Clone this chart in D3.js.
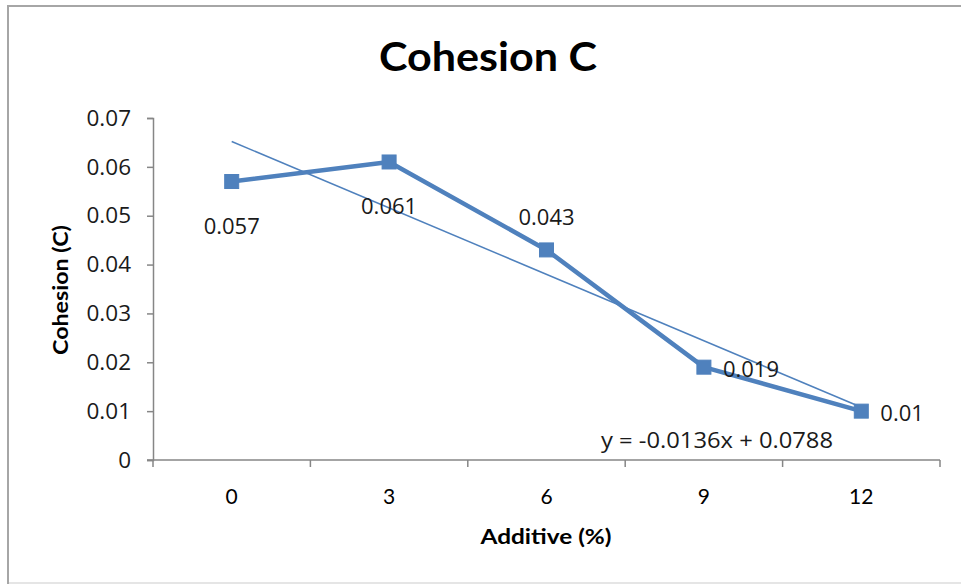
<!DOCTYPE html>
<html>
<head>
<meta charset="utf-8">
<script src="https://cdn.jsdelivr.net/npm/d3@7"></script>
<style>
  html, body { margin: 0; padding: 0; background: #fff; }
  svg { display: block; }
</style>
</head>
<body>
<svg id="chart" width="961" height="584"></svg>
<script>
// ---- data ----
const categories = ["0", "3", "6", "9", "12"];
const cohesion = [0.057, 0.061, 0.043, 0.019, 0.01];
const labelPos = ["below", "below", "above", "right", "right"];
const yTicks = [0, 0.01, 0.02, 0.03, 0.04, 0.05, 0.06, 0.07];
const trendSlope = -0.0136;
const trendIntercept = 0.0788;
const title = "Cohesion C";
const xTitle = "Additive (%)";
const yTitle = "Cohesion (C)";
const equation = "y = -0.0136x + 0.0788";

// ---- layout ----
const W = 961, H = 584;
const plot = { left: 153, right: 940, top: 118, bottom: 460 };
const blue = "#4F81BD";
const axisColor = "#868686";
const labelFont = "'Open Sans', 'DejaVu Sans', sans-serif";
const titleFont = "Lato, 'Open Sans', sans-serif";

const svg = d3.select("#chart");

// outer chart frame
svg.append("rect")
  .attr("x", 8).attr("y", 6).attr("width", W + 10).attr("height", H + 10)
  .attr("fill", "#fff").attr("stroke", "#a6a6a6").attr("stroke-width", 2);
svg.append("line").attr("x1", 9).attr("x2", W).attr("y1", 583).attr("y2", 583)
  .attr("stroke", "#dcdcdc").attr("stroke-width", 1.5);

const x = d3.scaleBand().domain(categories).range([plot.left, plot.right]).padding(0);
const xc = c => x(c) + x.bandwidth() / 2;
const y = d3.scaleLinear().domain([0, 0.07]).range([plot.bottom, plot.top]);

// title
svg.append("text")
  .attr("x", 488).attr("y", 71)
  .attr("text-anchor", "middle")
  .attr("font-family", titleFont).attr("font-weight", "bold")
  .attr("font-size", 41)
  .attr("textLength", 218).attr("lengthAdjust", "spacingAndGlyphs")
  .attr("fill", "#000")
  .text(title);

// y axis
const yAxis = svg.append("g")
  .attr("transform", `translate(${plot.left},0)`)
  .call(d3.axisLeft(y).tickValues(yTicks).tickSize(6).tickPadding(16)
    .tickFormat(d => d === 0 ? "0" : d3.format(".2f")(d)));
yAxis.select(".domain").attr("stroke", axisColor).attr("stroke-width", 1.5);
yAxis.selectAll(".tick line").attr("stroke", axisColor).attr("stroke-width", 1.5);
yAxis.selectAll(".tick text")
  .attr("font-family", labelFont).attr("font-size", 22.5).attr("fill", "#1a1a1a");

// x axis (ticks at category boundaries)
const xAxisG = svg.append("g").attr("transform", `translate(0,${plot.bottom})`);
xAxisG.append("line")
  .attr("x1", plot.left - 6).attr("x2", plot.right)
  .attr("y1", 0).attr("y2", 0)
  .attr("stroke", axisColor).attr("stroke-width", 1.5);
const boundaries = categories.map(c => x(c)).concat([x(categories[categories.length - 1]) + x.bandwidth()]);
xAxisG.selectAll("line.tk").data(boundaries).join("line")
  .attr("class", "tk")
  .attr("x1", d => d).attr("x2", d => d)
  .attr("y1", 0).attr("y2", 7)
  .attr("stroke", axisColor).attr("stroke-width", 1.5);
xAxisG.selectAll("text.cat").data(categories).join("text")
  .attr("class", "cat")
  .attr("x", d => xc(d)).attr("y", 44)
  .attr("text-anchor", "middle")
  .attr("font-family", titleFont).attr("font-size", 21).attr("fill", "#000")
  .text(d => d);

// axis titles
svg.append("text")
  .attr("x", 546).attr("y", 544)
  .attr("text-anchor", "middle")
  .attr("font-family", titleFont).attr("font-weight", "bold").attr("font-size", 21)
  .attr("textLength", 131).attr("lengthAdjust", "spacingAndGlyphs")
  .attr("fill", "#000")
  .text(xTitle);
svg.append("text")
  .attr("transform", `translate(68,290) rotate(-90)`)
  .attr("text-anchor", "middle")
  .attr("font-family", titleFont).attr("font-weight", "bold").attr("font-size", 21)
  .attr("textLength", 130).attr("lengthAdjust", "spacingAndGlyphs")
  .attr("fill", "#000")
  .text(yTitle);

// trendline
const n = categories.length;
const trendPts = [0, n - 1].map(i => [xc(categories[i]), y(trendSlope * (i + 1) + trendIntercept)]);
svg.append("path")
  .attr("d", d3.line()(trendPts))
  .attr("fill", "none").attr("stroke", blue).attr("stroke-width", 1.5);

// data line
const pts = categories.map((c, i) => [xc(c), y(cohesion[i])]);
svg.append("path")
  .attr("d", d3.line()(pts))
  .attr("fill", "none").attr("stroke", blue).attr("stroke-width", 4.5)
  .attr("stroke-linejoin", "round");

// markers
const ms = 14;
svg.selectAll("rect.mk").data(pts).join("rect")
  .attr("class", "mk")
  .attr("x", d => d[0] - ms / 2).attr("y", d => d[1] - ms / 2)
  .attr("width", ms).attr("height", ms)
  .attr("fill", blue).attr("stroke", blue).attr("stroke-width", 1);

// data labels
svg.selectAll("text.dl").data(categories).join("text")
  .attr("class", "dl")
  .attr("x", (c, i) => labelPos[i] === "right" ? xc(c) + 19 : xc(c))
  .attr("y", (c, i) => {
    const py = y(cohesion[i]);
    if (labelPos[i] === "below") return py + 52;
    if (labelPos[i] === "above") return py - 25;
    return py + 10;
  })
  .attr("text-anchor", (c, i) => labelPos[i] === "right" ? "start" : "middle")
  .attr("font-family", labelFont).attr("font-size", 22).attr("fill", "#1a1a1a")
  .text((c, i) => String(cohesion[i]));

// equation
svg.append("text")
  .attr("x", 717).attr("y", 448)
  .attr("text-anchor", "middle")
  .attr("font-family", labelFont).attr("font-size", 21).attr("fill", "#1a1a1a")
  .attr("textLength", 232).attr("lengthAdjust", "spacingAndGlyphs")
  .text(equation);
</script>
</body>
</html>
